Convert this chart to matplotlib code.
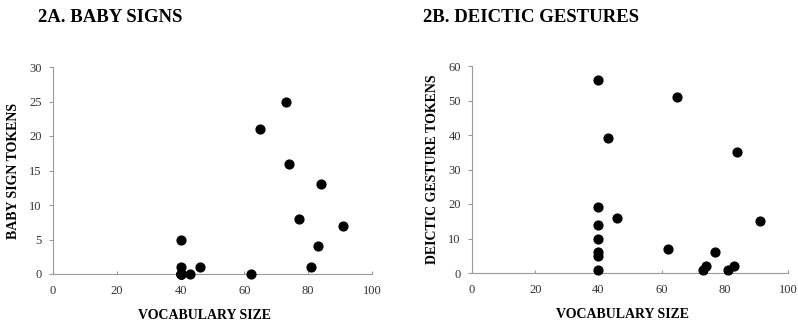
import matplotlib
matplotlib.use("Agg")
import matplotlib.pyplot as plt

plt.rcParams['font.family'] = ['Liberation Serif', 'DejaVu Serif']

# vocabulary size per child (shared by both panels)
vocab = [40, 40, 40, 40, 40, 40, 40, 43, 46, 62, 65, 73, 74, 77, 81, 83, 84, 91]
# baby sign tokens
signs = [5, 1, 0, 0, 0, 0, 0, 0, 1, 0, 21, 25, 16, 8, 1, 4, 13, 7]
# deictic gesture tokens
deictic = [56, 19, 14, 10, 6, 5, 1, 39, 16, 7, 51, 1, 2, 6, 1, 2, 35, 15]

x_ticks = [0, 20, 40, 60, 80, 100]

fig = plt.figure(figsize=(7.98, 3.22), dpi=100)
W, H = 798, 322


def make_ax(left, right, top, bottom):
    return fig.add_axes([left / W, 1 - bottom / H, (right - left) / W, (bottom - top) / H])


def style(ax, ymax, ystep, ylabel):
    ax.set_xlim(0, 100)
    ax.set_ylim(0, ymax)
    ax.set_xticks(x_ticks)
    ax.set_yticks(range(0, ymax + 1, ystep))
    for s in ['top', 'right']:
        ax.spines[s].set_visible(False)
    for s in ['left', 'bottom']:
        ax.spines[s].set_color('#9a9a9a')
        ax.spines[s].set_linewidth(0.8)
    ax.tick_params(axis='both', colors='#9a9a9a', labelcolor='#333333',
                   labelsize=9, width=0.8)
    ax.tick_params(axis='y', length=3, direction='out', pad=5)
    ax.tick_params(axis='x', length=2, direction='in', pad=8)
    ax.set_xlabel('VOCABULARY SIZE', fontsize=10, fontweight='bold')
    ax.xaxis.set_label_coords(0.475, -0.17)
    ax.set_ylabel(ylabel, fontsize=10, fontweight='bold', labelpad=7)


ax1 = make_ax(53, 372, 67, 274)
ax1.scatter(vocab, signs, s=40, color='black', zorder=3, clip_on=False)
style(ax1, 30, 5, 'BABY SIGN TOKENS')

ax2 = make_ax(472, 788, 66, 273)
ax2.scatter(vocab, deictic, s=40, color='black', zorder=3, clip_on=False)
style(ax2, 60, 10, 'DEICTIC GESTURE TOKENS')

fig.text(38 / W, 1 - 18 / H, '2A. BABY SIGNS', fontsize=13.5, fontweight='bold', va='center')
fig.text(423 / W, 1 - 18 / H, '2B. DEICTIC GESTURES', fontsize=13.5, fontweight='bold', va='center')

fig.savefig('out.png', dpi=100)
